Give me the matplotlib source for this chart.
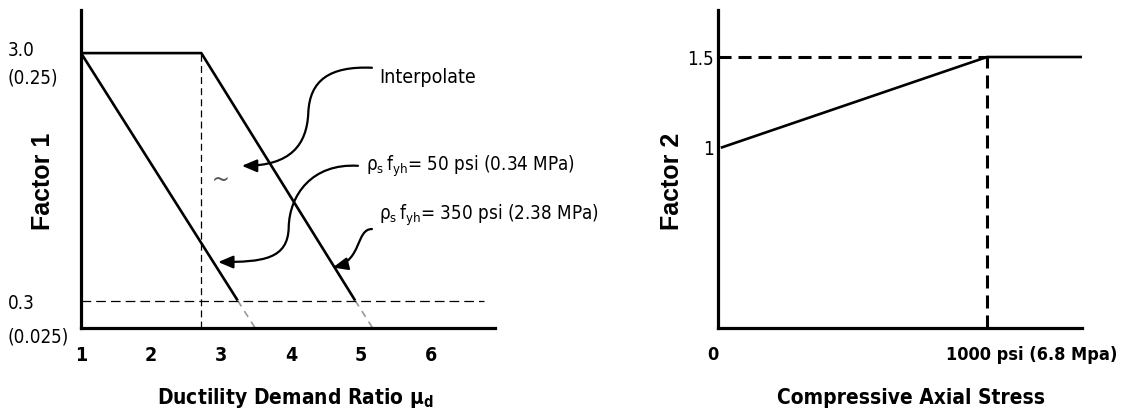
import numpy as np
import matplotlib
matplotlib.use('Agg')
import matplotlib.pyplot as plt
from matplotlib import font_manager
from matplotlib.patches import FancyArrowPatch
from matplotlib.path import Path
from matplotlib.transforms import blended_transform_factory

# pick a narrow sans face if one is installed (reference uses a Helvetica Narrow look)
names = {f.name: f for f in font_manager.fontManager.ttflist}
narrow = [f for f in font_manager.fontManager.ttflist
          if 'Narrow' in f.name or 'ondensed' in str(f.stretch) or 'ondensed' in f.fname]
if 'Liberation Sans Narrow' in names:
    FAM, STRETCH, SC = 'Liberation Sans Narrow', 'normal', 1.05
elif narrow:
    FAM, STRETCH, SC = narrow[0].name, 'condensed', 1.0
else:
    FAM, STRETCH, SC = 'Liberation Sans', 'normal', 0.9

plt.rcParams['font.family'] = [FAM, 'Liberation Sans', 'DejaVu Sans']
plt.rcParams['font.stretch'] = STRETCH
plt.rcParams['mathtext.default'] = 'regular'
plt.rcParams['lines.scale_dashes'] = False

# Factor 1 vs ductility demand ratio
mu_50 = [1.0, 3.24]           # rho_s f_yh = 50 psi
f1_50 = [3.0, 0.3]
mu_50_ext = [3.24, 3.49]
f1_50_ext = [0.3, 0.0]
mu_350 = [1.0, 2.72, 4.92]    # rho_s f_yh = 350 psi
f1_350 = [3.0, 3.0, 0.3]
mu_350_ext = [4.92, 5.17]
f1_350_ext = [0.3, 0.0]
mu_break = 2.72
f1_min = 0.3
f1_max = 3.0
mu_ticks = [1, 2, 3, 4, 5, 6]

# Factor 2 vs compressive axial stress
stress = [15, 1000, 1350]
factor2 = [1.0, 1.5, 1.5]
stress_break = 1000
f2_ticks = [1, 1.5]
f2_ticklabels = ['1', '1.5']

f_tick = 14 * SC
f_lab = 13.5 * SC
f_ann = 13.5 * SC
f_xl = 15 * SC
wide = {'family': ['Liberation Sans', 'DejaVu Sans'], 'stretch': 'normal'}

fig = plt.figure(figsize=(11.24, 4.16), dpi=100)

# ---------------- left panel ----------------
ax1 = fig.add_axes([0.0721, 0.2115, 0.3683, 0.7644])
ax1.set_xlim(1, 6.92)
ax1.set_ylim(0, 3.47)
for s in ['top', 'right']:
    ax1.spines[s].set_visible(False)
for s in ['left', 'bottom']:
    ax1.spines[s].set_linewidth(2.3)

ax1.plot(mu_50, f1_50, color='k', lw=1.9, solid_capstyle='butt')
ax1.plot(mu_350, f1_350, color='k', lw=1.9, solid_capstyle='butt')
ax1.plot(mu_50_ext, f1_50_ext, color='#999999', lw=1.2, ls=(0, (5, 4)))
ax1.plot(mu_350_ext, f1_350_ext, color='#999999', lw=1.2, ls=(0, (5, 4)))
ax1.plot([1, 6.76], [f1_min, f1_min], color='k', lw=0.9, ls=(0, (7, 3.6)))
ax1.plot([mu_break, mu_break], [0, f1_max], color='k', lw=0.9, ls=(0, (5, 3)))

ax1.set_xticks(mu_ticks)
ax1.set_xticklabels([str(t) for t in mu_ticks], fontsize=f_tick, fontweight='bold')
ax1.tick_params(axis='x', length=0, pad=13)
ax1.set_yticks([])
ax1.set_xlabel(r'Ductility Demand Ratio $\mu_d$', fontsize=f_xl, fontweight='bold', va='center')
ax1.xaxis.set_label_coords(0.517, -0.22)
ax1.set_ylabel('Factor 1', fontsize=18, fontweight='bold', va='center', **wide)
ax1.yaxis.set_label_coords(-0.092, 0.46)

ytr = blended_transform_factory(fig.transFigure, ax1.transData)
ax1.text(0.007, 3.03, '3.0', transform=ytr, fontsize=f_lab, ha='left', va='center')
ax1.text(0.007, 2.73, '(0.25)', transform=ytr, fontsize=f_lab, ha='left', va='center')
ax1.text(0.007, 0.27, '0.3', transform=ytr, fontsize=f_lab, ha='left', va='center')
ax1.text(0.007, -0.10, '(0.025)', transform=ytr, fontsize=f_lab, ha='left', va='center')

# annotations
ax1.text(5.27, 2.73, 'Interpolate', fontsize=f_ann + 0.5, ha='left', va='center')
ax1.text(5.07, 1.77, r'$\rho_s\,f_{yh}$= 50 psi (0.34 MPa)', fontsize=f_ann, ha='left', va='center')
ax1.text(5.26, 1.23, r'$\rho_s\,f_{yh}$= 350 psi (2.38 MPa)', fontsize=f_ann, ha='left', va='center')
ax1.text(2.99, 1.62, '~', fontsize=17, color='#555555', ha='center', va='center')

C4 = Path.CURVE4
arrows = [
    [(5.16, 2.84), (4.55, 2.86), (4.27, 2.70), (4.25, 2.35),
     (4.23, 2.00), (4.00, 1.77), (3.30, 1.77)],
    [(4.96, 1.77), (4.30, 1.80), (3.98, 1.45), (3.97, 1.10),
     (3.96, 0.75), (3.60, 0.72), (2.96, 0.72)],
    [(5.16, 1.08), (4.93, 1.08), (5.02, 0.74), (4.60, 0.66)],
]
for verts in arrows:
    codes = [Path.MOVETO] + [C4] * (len(verts) - 1)
    arr = FancyArrowPatch(path=Path(verts, codes),
                          arrowstyle='-|>,head_length=0.9,head_width=0.38',
                          mutation_scale=10, lw=1.6, color='k')
    ax1.add_patch(arr)

# ---------------- right panel ----------------
ax2 = fig.add_axes([0.6388, 0.2115, 0.3238, 0.7644])
ax2.set_xlim(0, 1353)
ax2.set_ylim(0, 1.76)
for s in ['top', 'right']:
    ax2.spines[s].set_visible(False)
for s in ['left', 'bottom']:
    ax2.spines[s].set_linewidth(2.3)

ax2.plot(stress, factor2, color='k', lw=1.9)
ax2.plot([0, stress_break], [1.5, 1.5], color='k', lw=2.2, ls=(0, (9.4, 5)))
ax2.plot([stress_break, stress_break], [0, 1.5], color='k', lw=2.2, ls=(0, (9.4, 5)))

ax2.set_yticks(f2_ticks)
ax2.set_yticklabels(f2_ticklabels, fontsize=f_lab)
ax2.tick_params(axis='y', length=0, pad=3)
ax2.set_xticks([])
xtr = blended_transform_factory(ax2.transData, ax2.transAxes)
ax2.text(-20, -0.085, '0', transform=xtr, fontsize=13 * SC, fontweight='bold', ha='center', va='center')
ax2.text(1167, -0.085, '1000 psi (6.8 Mpa)', transform=xtr, fontsize=13 * SC, fontweight='bold',
         ha='center', va='center')
ax2.set_xlabel('Compressive Axial Stress', fontsize=f_xl, fontweight='bold', va='center')
ax2.xaxis.set_label_coords(0.53, -0.22)
ax2.set_ylabel('Factor 2', fontsize=18, fontweight='bold', va='center', **wide)
ax2.yaxis.set_label_coords(-0.126, 0.46)

fig.savefig('out.png', dpi=100)
